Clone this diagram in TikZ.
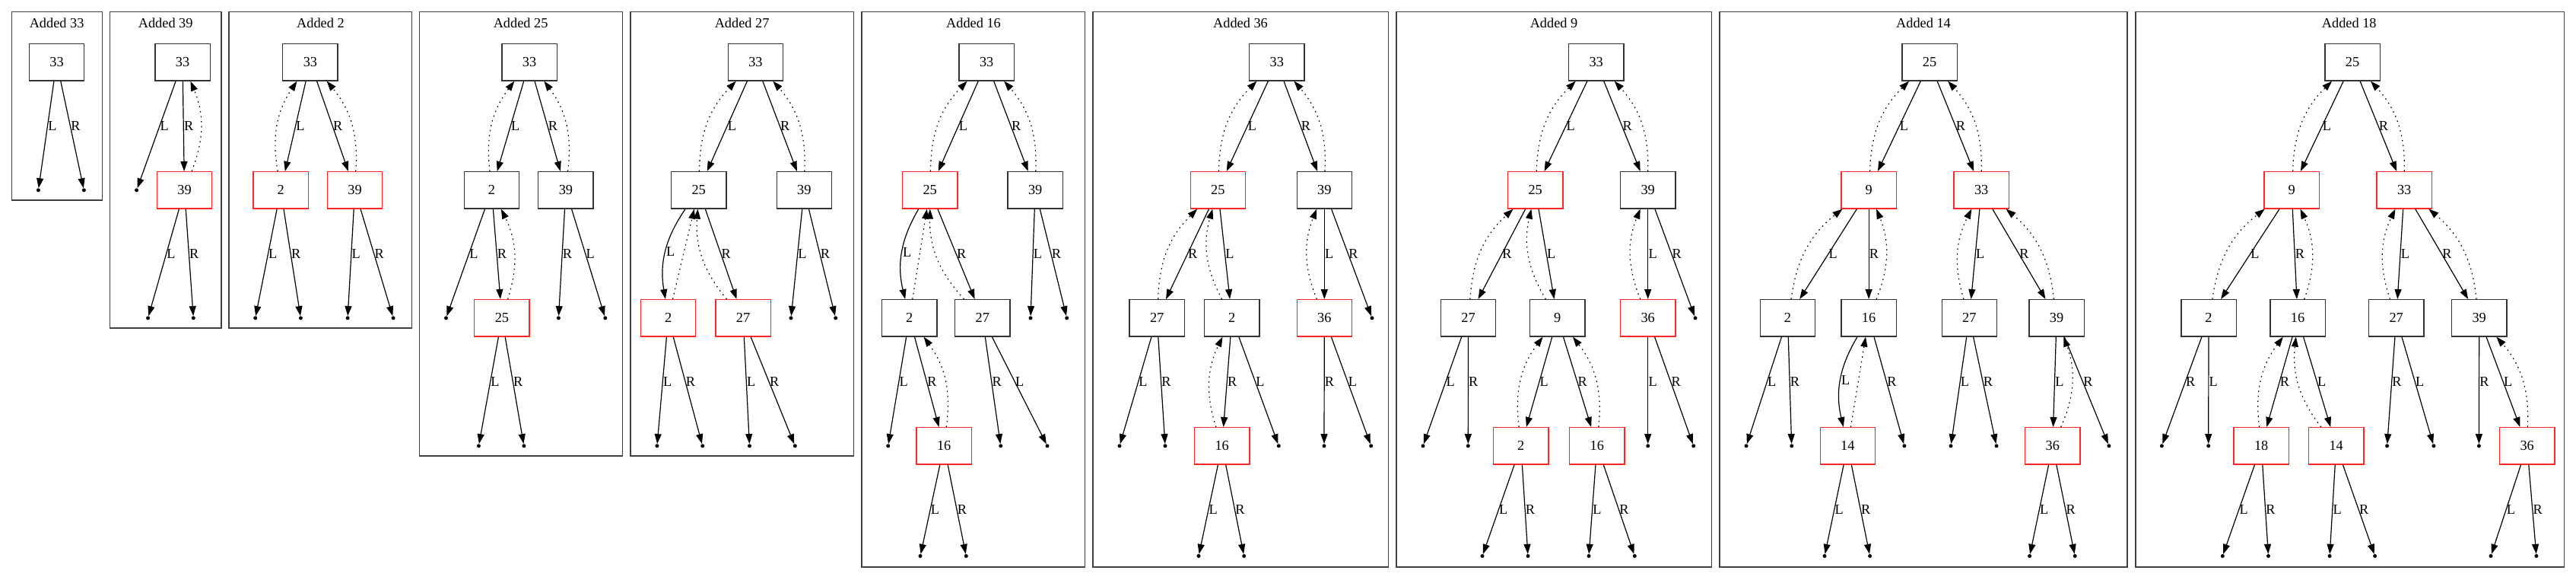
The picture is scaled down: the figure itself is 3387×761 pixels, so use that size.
\documentclass[tikz,border=0pt]{standalone}
\usepackage{fontspec}
\setmainfont{Liberation Serif}
\usetikzlibrary{arrows.meta,calc}
\newcommand\gvf{\fontsize{18.3pt}{22pt}\selectfont}
\def\ya{-81.8}\def\yb{-249.8}\def\yc{-417.8}\def\yd{-585.8}\def\ye{-730.5}
\tikzset{
 bx/.style={draw=black!80, line width=1.3pt, minimum width=72.3pt, minimum height=48.3pt, inner sep=0pt, font=\gvf},
 rbx/.style={bx, draw=red!85!white},
 pt/.style={circle, fill=black, inner sep=0pt, minimum size=5pt},
 ed/.style={line width=1.2pt, -{Triangle[length=13pt,width=9pt]}},
 dt/.style={ed, dash pattern=on 1.6pt off 5pt},
 lb/.style={anchor=west, inner sep=0.6pt, font=\gvf},
 frm/.style={draw=black!75, line width=1.3pt},
 ttl/.style={font=\gvf, inner sep=0pt}
}
\newcommand\lf[4][0.5]{\draw[ed] (#2) -- (#3); \node[lb] (#3-l) at ($(#2)!#1!(#3)$) {#4};}
\newcommand\pr[4]{\draw[ed] (#1) -- (#2); \draw[dt] (#2) to[bend #4=22] (#1); \node[lb] (#2-l) at ($(#1)!0.5!(#2)$) {#3};}
\newcommand\spr[3]{\draw[ed] (#1) to[bend right=22] node[lb,pos=0.5] (#2-l) {#3} (#2); \draw[dt] (#2) -- (#1);}
\begin{document}
\begin{tikzpicture}[x=1pt,y=1pt]
\useasboundingbox (0,0) rectangle (3387,-761);
% ---------- Panel 1
\draw[frm] (15.7,-15.7) rectangle (134.6,-263);
\node[ttl] (t1) at (74.6,-30) {Added 33};
\node[bx] (a33) at (74.5,\ya) {33};
\node[pt] (a1) at (50.4,\yb) {};
\node[pt] (a2) at (110.4,\yb) {};
\lf{a33}{a1}{L}\lf{a33}{a2}{R}
% ---------- Panel 2
\draw[frm] (144.6,-15.7) rectangle (291,-431);
\node[ttl] (t2) at (217.7,-30) {Added 39};
\node[bx] (b33) at (240,\ya) {33};
\node[rbx] (b39) at (242.5,\yb) {39};
\node[pt] (bp1) at (179.6,\yb) {};
\node[pt] (bp2) at (194.6,\yc) {};
\node[pt] (bp3) at (254.3,\yc) {};
\lf{b33}{bp1}{L}\pr{b33}{b39}{R}{right}
\lf{b39}{bp2}{L}\lf{b39}{bp3}{R}
% ---------- Panel 3
\draw[frm] (301,-15.7) rectangle (541.8,-431);
\node[ttl] (t3) at (421.4,-30) {Added 2};
\node[bx] (c33) at (407.9,\ya) {33};
\node[rbx] (c2) at (369.1,\yb) {2};
\node[rbx] (c39) at (466.6,\yb) {39};
\node[pt] (c2L) at (335.7,\yc) {};
\node[pt] (c2R) at (395.4,\yc) {};
\node[pt] (c39L) at (457.1,\yc) {};
\node[pt] (c39R) at (517.1,\yc) {};
\pr{c33}{c2}{L}{left}\pr{c33}{c39}{R}{right}
\lf{c2}{c2L}{L}\lf{c2}{c2R}{R}\lf{c39}{c39L}{L}\lf{c39}{c39R}{R}
% ---------- Panel 4
\draw[frm] (551.5,-15.7) rectangle (818.7,-599);
\node[ttl] (t4) at (684.6,-30) {Added 25};
\node[bx] (d33) at (696,\ya) {33};
\node[bx] (d2) at (646.4,\yb) {2};
\node[bx] (d39) at (743.9,\yb) {39};
\node[rbx] (d25) at (659.9,\yc) {25};
\node[pt] (dp2L) at (586.5,\yc) {};
\node[pt] (dp39a) at (734.4,\yc) {};
\node[pt] (dp39b) at (795.8,\yc) {};
\node[pt] (dp25L) at (629.4,\yd) {};
\node[pt] (dp25R) at (688.9,\yd) {};
\pr{d33}{d2}{L}{left}\pr{d33}{d39}{R}{right}\pr{d2}{d25}{R}{right}
\lf{d2}{dp2L}{L}\lf{d39}{dp39a}{R}\lf{d39}{dp39b}{L}
\lf{d25}{dp25L}{L}\lf{d25}{dp25R}{R}
% ---------- Panel 5
\draw[frm] (828.9,-15.7) rectangle (1122.4,-599);
\node[ttl] (t5) at (975.6,-30) {Added 27};
\node[bx] (e33) at (993.4,\ya) {33};
\node[bx] (e25) at (918.7,\yb) {25};
\node[bx] (e39) at (1057.3,\yb) {39};
\node[rbx] (e2) at (878.6,\yc) {2};
\node[rbx] (e27) at (977.1,\yc) {27};
\node[pt] (e39L) at (1040,\yc) {};
\node[pt] (e39R) at (1098.7,\yc) {};
\node[pt] (e2L) at (863.9,\yd) {};
\node[pt] (e2R) at (923.7,\yd) {};
\node[pt] (e27L) at (985.5,\yd) {};
\node[pt] (e27R) at (1045.3,\yd) {};
\pr{e33}{e25}{L}{left}\pr{e33}{e39}{R}{right}
\spr{e25}{e2}{L}\pr{e25}{e27}{R}{left}
\lf{e39}{e39L}{L}\lf{e39}{e39R}{R}
\lf{e2}{e2L}{L}\lf{e2}{e2R}{R}\lf{e27}{e27L}{L}\lf{e27}{e27R}{R}
% ---------- Panel 6
\draw[frm] (1133,-15.7) rectangle (1426.7,-745);
\node[ttl] (t6) at (1280,-30) {Added 16};
\node[bx] (f33) at (1297.2,\ya) {33};
\node[rbx] (f25) at (1222.7,\yb) {25};
\node[bx] (f39) at (1361.2,\yb) {39};
\node[bx] (f2) at (1195.8,\yc) {2};
\node[bx] (f27) at (1291.8,\yc) {27};
\node[pt] (f39L) at (1355,\yc) {};
\node[pt] (f39R) at (1402.7,\yc) {};
\node[rbx] (f16) at (1241.2,\yd) {16};
\node[pt] (f2L) at (1167.7,\yd) {};
\node[pt] (f27a) at (1315.7,\yd) {};
\node[pt] (f27b) at (1377,\yd) {};
\node[pt] (f16L) at (1210,\ye) {};
\node[pt] (f16R) at (1270.3,\ye) {};
\pr{f33}{f25}{L}{left}\pr{f33}{f39}{R}{right}
\spr{f25}{f2}{L}\pr{f25}{f27}{R}{left}\pr{f2}{f16}{R}{right}
\lf{f39}{f39L}{L}\lf{f39}{f39R}{R}\lf{f2}{f2L}{L}
\lf{f27}{f27a}{R}\lf{f27}{f27b}{L}
\lf[0.58]{f16}{f16L}{L}\lf[0.58]{f16}{f16R}{R}
% ---------- Panel 7
\draw[frm] (1437,-15.7) rectangle (1825.7,-745);
\node[ttl] (t7) at (1631,-30) {Added 36};
\node[bx] (g33) at (1678.8,\ya) {33};
\node[rbx] (g25) at (1601.3,\yb) {25};
\node[bx] (g39) at (1741.3,\yb) {39};
\node[bx] (g27) at (1521.2,\yc) {27};
\node[bx] (g2) at (1619.8,\yc) {2};
\node[rbx] (g36) at (1741.3,\yc) {36};
\node[pt] (g39R) at (1804,\yc) {};
\node[pt] (g27L) at (1472,\yd) {};
\node[pt] (g27R) at (1532,\yd) {};
\node[rbx] (g16) at (1606.7,\yd) {16};
\node[pt] (g2L) at (1681.3,\yd) {};
\node[pt] (g36a) at (1741,\yd) {};
\node[pt] (g36b) at (1802.7,\yd) {};
\node[pt] (g16L) at (1576,\ye) {};
\node[pt] (g16R) at (1635.7,\ye) {};
\pr{g33}{g25}{L}{left}\pr{g33}{g39}{R}{right}
\pr{g25}{g27}{R}{left}\pr{g25}{g2}{L}{left}\pr{g39}{g36}{L}{left}\pr{g2}{g16}{R}{left}
\lf{g39}{g39R}{R}\lf{g27}{g27L}{L}\lf{g27}{g27R}{R}\lf{g2}{g2L}{L}
\lf{g36}{g36a}{R}\lf{g36}{g36b}{L}
\lf[0.58]{g16}{g16L}{L}\lf[0.58]{g16}{g16R}{R}
% ---------- Panel 8
\draw[frm] (1836,-15.7) rectangle (2250.7,-745);
\node[ttl] (t8) at (2043,-30) {Added 9};
\node[bx] (h33) at (2098.7,\ya) {33};
\node[rbx] (h25) at (2018.7,\yb) {25};
\node[bx] (h39) at (2166.7,\yb) {39};
\node[bx] (h27) at (1930.5,\yc) {27};
\node[bx] (h9) at (2047.8,\yc) {9};
\node[rbx] (h36) at (2166.7,\yc) {36};
\node[pt] (h39R) at (2229,\yc) {};
\node[pt] (h27L) at (1871,\yd) {};
\node[pt] (h27R) at (1930.3,\yd) {};
\node[rbx] (h2) at (1999.8,\yd) {2};
\node[rbx] (h16) at (2099.8,\yd) {16};
\node[pt] (h36L) at (2166.7,\yd) {};
\node[pt] (h36R) at (2226.7,\yd) {};
\node[pt] (h2L) at (1949,\ye) {};
\node[pt] (h2R) at (2009,\ye) {};
\node[pt] (h16L) at (2089,\ye) {};
\node[pt] (h16R) at (2149.3,\ye) {};
\pr{h33}{h25}{L}{left}\pr{h33}{h39}{R}{right}
\pr{h25}{h27}{R}{left}\pr{h25}{h9}{L}{left}\pr{h39}{h36}{L}{left}
\pr{h9}{h2}{L}{left}\pr{h9}{h16}{R}{right}
\lf{h39}{h39R}{R}\lf{h27}{h27L}{L}\lf{h27}{h27R}{R}
\lf{h36}{h36L}{L}\lf{h36}{h36R}{R}
\lf[0.58]{h2}{h2L}{L}\lf[0.58]{h2}{h2R}{R}
\lf[0.58]{h16}{h16L}{L}\lf[0.58]{h16}{h16R}{R}
% ---------- Panel 9
\draw[frm] (2261,-15.7) rectangle (2797,-745);
\node[ttl] (t9) at (2529,-30) {Added 14};
\node[bx] (i25) at (2537.1,\ya) {25};
\node[rbx] (i9) at (2457.1,\yb) {9};
\node[rbx] (i33) at (2605.2,\yb) {33};
\node[bx] (i2) at (2350.5,\yc) {2};
\node[bx] (i16) at (2457.1,\yc) {16};
\node[bx] (i27) at (2589.3,\yc) {27};
\node[bx] (i39) at (2704.1,\yc) {39};
\node[pt] (i2L) at (2296,\yd) {};
\node[pt] (i2R) at (2355.7,\yd) {};
\node[rbx] (i14) at (2429.3,\yd) {14};
\node[pt] (i16R) at (2503.9,\yd) {};
\node[pt] (i27L) at (2565,\yd) {};
\node[pt] (i27R) at (2625,\yd) {};
\node[rbx] (i36) at (2698.8,\yd) {36};
\node[pt] (i39R) at (2772.9,\yd) {};
\node[pt] (i14L) at (2399,\ye) {};
\node[pt] (i14R) at (2458.6,\ye) {};
\node[pt] (i36L) at (2668.6,\ye) {};
\node[pt] (i36R) at (2728.2,\ye) {};
\pr{i25}{i9}{L}{left}\pr{i25}{i33}{R}{right}
\pr{i9}{i2}{L}{left}\pr{i9}{i16}{R}{right}
\pr{i33}{i27}{L}{left}\pr{i33}{i39}{R}{right}
\spr{i16}{i14}{L}\pr{i39}{i36}{L}{right}
\lf{i2}{i2L}{L}\lf{i2}{i2R}{R}\lf{i16}{i16R}{R}
\lf{i27}{i27L}{L}\lf{i27}{i27R}{R}\lf{i39}{i39R}{R}
\lf[0.58]{i14}{i14L}{L}\lf[0.58]{i14}{i14R}{R}
\lf[0.58]{i36}{i36L}{L}\lf[0.58]{i36}{i36R}{R}
% ---------- Panel 10
\draw[frm] (2808,-15.7) rectangle (3371.4,-745);
\node[ttl] (t10) at (3088.7,-30) {Added 18};
\node[bx] (j25) at (3093,\ya) {25};
\node[rbx] (j9) at (3013.1,\yb) {9};
\node[rbx] (j33) at (3161.2,\yb) {33};
\node[bx] (j2) at (2904,\yc) {2};
\node[bx] (j16) at (3021.1,\yc) {16};
\node[bx] (j27) at (3150.7,\yc) {27};
\node[bx] (j39) at (3259.7,\yc) {39};
\node[pt] (j2a) at (2842.4,\yd) {};
\node[pt] (j2b) at (2903.7,\yd) {};
\node[rbx] (j18) at (2973.2,\yd) {18};
\node[rbx] (j14) at (3071.7,\yd) {14};
\node[pt] (j27a) at (3138.6,\yd) {};
\node[pt] (j27b) at (3199.9,\yd) {};
\node[pt] (j39R) at (3259.4,\yd) {};
\node[rbx] (j36) at (3322.7,\yd) {36};
\node[pt] (j18L) at (2922.3,\ye) {};
\node[pt] (j18R) at (2982.5,\ye) {};
\node[pt] (j14L) at (3063.1,\ye) {};
\node[pt] (j14R) at (3122.6,\ye) {};
\node[pt] (j36L) at (3275,\ye) {};
\node[pt] (j36R) at (3334.9,\ye) {};
\pr{j25}{j9}{L}{left}\pr{j25}{j33}{R}{right}
\pr{j9}{j2}{L}{left}\pr{j9}{j16}{R}{right}
\pr{j33}{j27}{L}{left}\pr{j33}{j39}{R}{right}
\pr{j16}{j18}{R}{left}\pr{j16}{j14}{L}{left}\pr{j39}{j36}{L}{right}
\lf{j2}{j2a}{R}\lf{j2}{j2b}{L}\lf{j27}{j27a}{R}\lf{j27}{j27b}{L}\lf{j39}{j39R}{R}
\lf[0.58]{j18}{j18L}{L}\lf[0.58]{j18}{j18R}{R}
\lf[0.58]{j14}{j14L}{L}\lf[0.58]{j14}{j14R}{R}
\lf[0.58]{j36}{j36L}{L}\lf[0.58]{j36}{j36R}{R}
\end{tikzpicture}
\end{document}
